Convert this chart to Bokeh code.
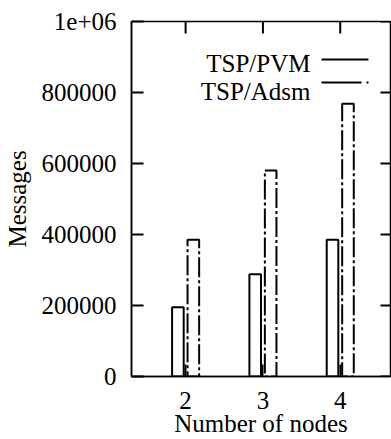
import math
from bokeh.plotting import figure
from bokeh.models import Range1d, FixedTicker, Label, Arrow
from bokeh.transform import dodge
from bokeh.embed import file_html
from bokeh.resources import INLINE

nodes = [2, 3, 4]
pvm = [195000, 288000, 385000]
adsm = [385000, 580000, 768000]
yticks = [0, 200000, 400000, 600000, 800000, 1000000]
ytick_labels = ["0", "200000", "400000", "600000", "800000", "1e+06"]
series_names = ["TSP/PVM", "TSP/Adsm"]

FONT = "Liberation Serif"
FS = "25px"
DASH = "20 3 3 3"
XMIN, XMAX = 1.3, 4.65
YMIN, YMAX = 0, 1000000

p = figure(width=391, height=439, output_backend="svg", toolbar_location=None,
           x_range=Range1d(XMIN, XMAX), y_range=Range1d(YMIN, YMAX),
           min_border_left=128, min_border_right=1, min_border_top=21, min_border_bottom=63)
p.background_fill_color = "white"
p.border_fill_color = "white"
p.grid.visible = False
p.outline_line_color = "black"
p.outline_line_width = 1.5

src = dict(nodes=nodes, pvm=pvm, adsm=adsm)
p.vbar(x=dodge("nodes", -0.1), top="pvm", width=0.15, source=src,
       fill_color=None, line_color="black", line_width=2)
p.vbar(x=dodge("nodes", 0.1), top="adsm", width=0.15, source=src,
       fill_color=None, line_color="black", line_width=2, line_dash=DASH)

# mirror ticks on the top and right borders (markers centred on the border, clipped to the frame)
p.scatter(x=nodes, y=[YMAX] * len(nodes), marker="dash", size=24, angle=math.pi / 2,
          line_color="black", line_width=2)
p.scatter(x=[XMAX] * len(yticks), y=yticks, marker="dash", size=20,
          line_color="black", line_width=2)

for ax in (p.xaxis[0], p.yaxis[0]):
    ax.major_tick_in = 12
    ax.major_tick_out = 0
    ax.minor_tick_in = 0
    ax.minor_tick_out = 0
    ax.major_tick_line_width = 2
    ax.axis_line_width = 1.5
    ax.major_label_text_font = FONT
    ax.major_label_text_font_size = FS
    ax.major_label_text_color = "black"
    ax.axis_label_text_font = FONT
    ax.axis_label_text_font_size = FS
    ax.axis_label_text_font_style = "normal"
    ax.axis_label_text_color = "black"

p.xaxis[0].ticker = FixedTicker(ticks=nodes)
p.xaxis[0].axis_label = "Number of nodes"
p.xaxis[0].major_label_standoff = 15
p.xaxis[0].axis_label_standoff = -2

p.yaxis[0].ticker = FixedTicker(ticks=yticks)
p.yaxis[0].major_label_overrides = {t: l for t, l in zip(yticks, ytick_labels)}
p.yaxis[0].axis_label = "Messages"
p.yaxis[0].major_label_standoff = 15
p.yaxis[0].axis_label_standoff = 8

# legend (gnuplot style: text right-aligned, sample to the right)
p.add_layout(Label(x=179, y=313, x_units="screen", y_units="screen", text=series_names[0],
                   text_align="right", text_baseline="alphabetic",
                   text_font=FONT, text_font_size=FS, text_color="black"))
p.add_layout(Label(x=179, y=285, x_units="screen", y_units="screen", text=series_names[1],
                   text_align="right", text_baseline="alphabetic",
                   text_font=FONT, text_font_size=FS, text_color="black"))
p.add_layout(Arrow(end=None, start=None, x_start=190, y_start=317, x_end=237, y_end=317,
                   start_units="screen", end_units="screen", line_width=2, line_color="black"))
p.add_layout(Arrow(end=None, start=None, x_start=190, y_start=294, x_end=237, y_end=294,
                   start_units="screen", end_units="screen", line_width=2, line_color="black",
                   line_dash="40 5 3 5"))

open("out.html", "w").write(file_html(p, INLINE))
